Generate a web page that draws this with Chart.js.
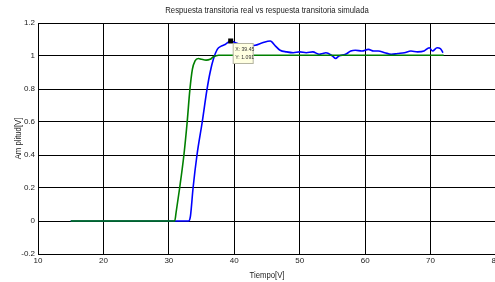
<!DOCTYPE html>
<html>
<head>
<meta charset="utf-8">
<script src="https://cdn.jsdelivr.net/npm/chart.js@4/dist/chart.umd.min.js"></script>
<style>
  html, body { margin: 0; padding: 0; background: #fff; overflow: hidden; }
  canvas { display: block; }
</style>
</head>
<body>
<canvas id="chart" width="505" height="282"></canvas>
<script>
// respuesta real (azul) y simulada (verde)
const timeReal = [15, 33.0, 33.3, 33.7, 34.3, 35.1, 35.8, 36.3, 36.8, 37.4, 38.0, 38.6, 39.45, 40.2, 41.0, 42.0, 43.2, 44.3, 45.5, 46.3, 47.0, 48.0, 49.0, 50.0, 51.0, 52.0, 53.0, 53.5, 54.0, 55.0, 55.5, 56.0, 57.0, 57.8, 58.5, 59.5, 60.5, 61.3, 62.0, 63.0, 64.0, 65.0, 66.0, 67.0, 68.0, 69.0, 69.8, 70.3, 71.0, 71.5, 71.9]
const ampReal = [0, 0, 0.03, 0.2, 0.4, 0.6, 0.79, 0.9, 0.98, 1.04, 1.06, 1.07, 1.091, 1.08, 1.07, 1.06, 1.065, 1.08, 1.091, 1.06, 1.035, 1.025, 1.02, 1.025, 1.02, 1.025, 1.01, 1.015, 1.02, 1.0, 0.985, 1.0, 1.01, 1.03, 1.035, 1.03, 1.04, 1.03, 1.03, 1.02, 1.01, 1.015, 1.02, 1.03, 1.025, 1.03, 1.05, 1.03, 1.05, 1.045, 1.02]

const timeSim = [15, 30.9, 31.1, 31.65, 32.3, 32.8, 33.2, 33.6, 34.0, 34.5, 35.0, 35.7, 36.3, 36.8, 37.6, 45, 55, 65, 72]
const ampSim = [0, 0, 0.05, 0.2, 0.4, 0.6, 0.79, 0.92, 0.97, 0.985, 0.98, 0.975, 0.98, 0.995, 1.005, 1.005, 1.005, 1.005, 1.005]

const xTicks = [10, 20, 30, 40, 50, 60, 70, 80]
const yTicks = [-0.2, 0, 0.2, 0.4, 0.6, 0.8, 1, 1.2]

// punto marcado con el cursor de datos
const tipX = 39.45
const tipY = 1.091

const FONT = "'Liberation Sans', Arial, sans-serif"

const toPoints = (xs, ys) => xs.map((x, i) => ({ x, y: ys[i] }))

// texto estrecho, como la fuente de matlab
function narrowText(ctx, text, x, y, size, angle) {
  ctx.save()
  ctx.translate(x, y)
  if (angle) ctx.rotate(angle)
  ctx.scale(0.86, 1)
  ctx.font = size + "px " + FONT
  ctx.fillText(text, 0, 0)
  ctx.restore()
}

const textPlugin = {
  id: "textos",
  afterDraw(chart) {
    const { ctx, chartArea, scales } = chart
    const cx = (chartArea.left + chartArea.right) / 2
    const cy = (chartArea.top + chartArea.bottom) / 2
    ctx.save()
    ctx.fillStyle = "#222"
    ctx.textAlign = "center"
    ctx.textBaseline = "middle"
    narrowText(ctx, "Respuesta transitoria real vs respuesta transitoria simulada", cx, 11, 9)
    narrowText(ctx, "Tiempo[V]", cx, 276, 9)
    narrowText(ctx, "Am plitud[V]", 19, cy, 9, -Math.PI / 2)
    ctx.restore()

    // datatip
    const px = scales.x.getPixelForValue(tipX)
    const py = scales.y.getPixelForValue(tipY)
    ctx.save()
    ctx.fillStyle = "#000"
    ctx.fillRect(px - 2.5, py - 2.5, 5, 5)
    ctx.fillStyle = "#ffffe1"
    ctx.strokeStyle = "#b4b4a0"
    ctx.lineWidth = 1
    ctx.fillRect(px + 2.5, py + 2.5, 20, 20)
    ctx.strokeRect(px + 2.5, py + 2.5, 20, 20)
    ctx.fillStyle = "#333"
    ctx.textAlign = "left"
    ctx.textBaseline = "middle"
    narrowText(ctx, "X: " + tipX, px + 4.5, py + 8.5, 6)
    narrowText(ctx, "Y: " + tipY, px + 4.5, py + 16.5, 6)
    ctx.restore()
  }
}

new Chart(document.getElementById("chart"), {
  type: "line",
  data: {
    datasets: [
      {
        label: "real",
        data: toPoints(timeReal, ampReal),
        borderColor: "#0000ff",
        borderWidth: 1.6,
        pointRadius: 0,
        cubicInterpolationMode: "monotone",
        order: 2
      },
      {
        label: "simulada",
        data: toPoints(timeSim, ampSim),
        borderColor: "#008000",
        borderWidth: 1.6,
        pointRadius: 0,
        cubicInterpolationMode: "monotone",
        order: 1
      }
    ]
  },
  options: {
    responsive: false,
    animation: false,
    layout: { padding: { left: 0, right: 9, top: 23, bottom: 0 } },
    plugins: {
      legend: { display: false },
      tooltip: { enabled: false }
    },
    scales: {
      x: {
        type: "linear",
        min: 10,
        max: 80,
        afterBuildTicks: (scale) => { scale.ticks = xTicks.map(v => ({ value: v })) },
        afterFit: (scale) => { scale.height = 28 },
        grid: { color: "#000", lineWidth: 1, drawTicks: false },
        border: { color: "#000", width: 1 },
        ticks: { color: "#222", padding: 2, maxRotation: 0, font: { family: FONT, size: 8 } }
      },
      y: {
        min: -0.2,
        max: 1.2,
        afterBuildTicks: (scale) => { scale.ticks = yTicks.map(v => ({ value: v })) },
        afterFit: (scale) => { scale.width = 38 },
        grid: { color: "#000", lineWidth: 1, drawTicks: false },
        border: { color: "#000", width: 1 },
        ticks: {
          color: "#222",
          padding: 3,
          font: { family: FONT, size: 8 },
          callback: (value) => String(Math.round(value * 10) / 10)
        }
      }
    }
  },
  plugins: [textPlugin]
})
</script>
</body>
</html>
